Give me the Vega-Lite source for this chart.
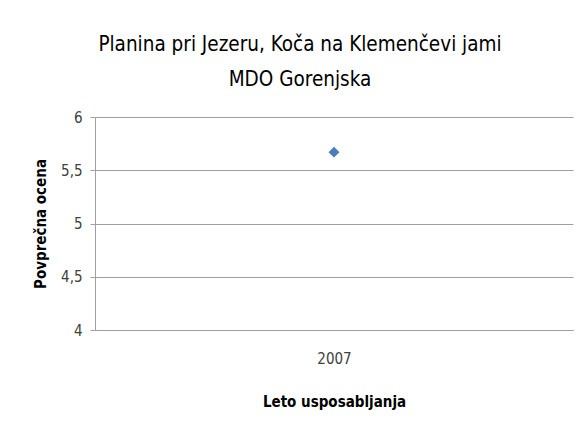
{
  "$schema": "https://vega.github.io/schema/vega-lite/v6.json",
  "width": 478,
  "height": 213,
  "autosize": {"type": "none"},
  "padding": {"left": 95, "top": 117, "right": 12, "bottom": 98},
  "background": "white",
  "title": {
    "text": ["Planina pri Jezeru, Koča na Klemenčevi jami", "MDO Gorenjska"],
    "font": "'DejaVu Sans Condensed', 'Liberation Sans', sans-serif",
    "fontSize": 20.5,
    "fontWeight": "normal",
    "color": "#000000",
    "anchor": "middle",
    "dx": -34,
    "lineHeight": 35,
    "offset": 20
  },
  "data": {"values": [{"leto": "2007", "ocena": 5.67}]},
  "mark": {"type": "point", "shape": "diamond", "filled": true, "size": 120, "color": "#4a7ebb", "opacity": 1},
  "encoding": {
    "x": {
      "field": "leto",
      "type": "nominal",
      "title": "Leto usposabljanja",
      "axis": {
        "labelAngle": 0,
        "labelFont": "'DejaVu Sans Condensed', 'Liberation Sans', sans-serif",
        "labelFontSize": 15,
        "labelColor": "#404040",
        "labelPadding": 21,
        "titleFont": "'DejaVu Sans Condensed', 'Liberation Sans', sans-serif",
        "titleFontSize": 15,
        "titleFontWeight": "bold",
        "titleColor": "#000000",
        "titlePadding": 28,
        "ticks": false,
        "domainColor": "#a0a0a0",
        "grid": false
      }
    },
    "y": {
      "field": "ocena",
      "type": "quantitative",
      "title": "Povprečna ocena",
      "scale": {"domain": [4, 6], "nice": false, "zero": false},
      "axis": {
        "values": [4, 4.5, 5, 5.5, 6],
        "labelExpr": "replace(format(datum.value, '~g'), '.', ',')",
        "labelFont": "'DejaVu Sans Condensed', 'Liberation Sans', sans-serif",
        "labelFontSize": 15,
        "labelColor": "#404040",
        "labelPadding": 8,
        "tickSize": 5,
        "tickColor": "#a0a0a0",
        "domainColor": "#a0a0a0",
        "gridColor": "#a0a0a0",
        "titleFont": "'DejaVu Sans Condensed', 'Liberation Sans', sans-serif",
        "titleFontSize": 15,
        "titleFontWeight": "bold",
        "titleColor": "#000000",
        "titlePadding": 12
      }
    }
  },
  "config": {"view": {"stroke": null}}
}
